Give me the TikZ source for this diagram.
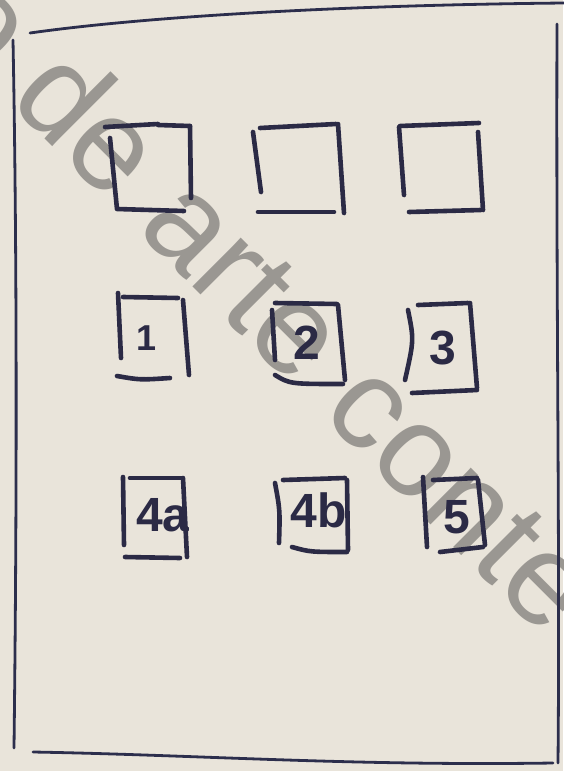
\documentclass[tikz,border=0pt]{standalone}
\usepackage{fontspec}
\newfontfamily\wmfamily{Liberation Sans}
\definecolor{paper}{HTML}{E9E4DA}
\definecolor{ink}{HTML}{2B2A45}
\definecolor{frameink}{HTML}{2C2E4C}
\definecolor{wmgray}{HTML}{9A9792}
\tikzset{
  frameline/.style={draw=frameink, line width=2.8pt, line cap=round, line join=round},
  boxline/.style={draw=ink, line width=4.6pt, line cap=round, line join=round},
  digit/.style={text=ink, inner sep=0pt, font=\wmfamily\bfseries\fontsize{48}{48}\selectfont},
  watermark/.style={text=wmgray, inner sep=0pt, rotate=-45, anchor=base west,
    font=\wmfamily\fontsize{130}{130}\selectfont}
}
\begin{document}
\begin{tikzpicture}[x=1pt,y=-1pt]
\useasboundingbox (0,0) rectangle (563,771);
\fill[paper] (0,0) rectangle (563,771);

% watermark
\node[watermark] (wm) at (-69,25) {o de arte conte};

% outer frame
\draw[frameline] (30,33) .. controls (150,16) and (350,5) .. (565,3);
\draw[frameline] (13,40) .. controls (17,250) and (17,500) .. (14,748);
\draw[frameline] (557,24) .. controls (556,300) and (560,550) .. (558,763);
\draw[frameline] (33,752) .. controls (200,755) and (350,766) .. (553,763);

% row 1
\draw[boxline] (105,127) -- (158,124) (158,125) -- (190,126);
\draw[boxline] (190,126) -- (191,198);
\draw[boxline] (110,138) -- (117,209) -- (184,211);

\draw[boxline] (260,128) -- (336,124);
\draw[boxline] (338,124) -- (344,213);
\draw[boxline] (253,132) -- (261,192);
\draw[boxline] (258,212) -- (334,212);

\draw[boxline] (400,126) -- (479,123);
\draw[boxline] (399,127) -- (404,195);
\draw[boxline] (478,132) -- (483,210);
\draw[boxline] (409,212) -- (481,210);

% row 2
\draw[boxline] (118,293) -- (121,358);
\draw[boxline] (123,297) -- (178,298);
\draw[boxline] (183,300) -- (189,375);
\draw[boxline] (117,376) .. controls (140,380) .. (170,378);
\node[digit, font=\wmfamily\bfseries\fontsize{36}{36}\selectfont] (d1) at (147,338) {1};

\draw[boxline] (275,303) -- (337,304);
\draw[boxline] (338,305) -- (345,380);
\draw[boxline] (272,310) -- (275,360);
\draw[boxline] (275,375) .. controls (290,384) .. (343,384);
\node[digit] (d2) at (307,343) {2};

\draw[boxline] (408,310) .. controls (414,340) .. (405,380);
\draw[boxline] (418,305) -- (468,303);
\draw[boxline] (470,303) -- (477,388);
\draw[boxline] (412,393) -- (477,390);
\node[digit] (d3) at (443,348) {3};

% row 3
\draw[boxline] (123,477) -- (124,545);
\draw[boxline] (130,478) -- (182,478);
\draw[boxline] (183,478) -- (187,557);
\draw[boxline] (125,557) -- (180,558);
\node[digit] (d4a) at (163,515) {4a};

\draw[boxline] (275,483) .. controls (280,510) .. (279,543);
\draw[boxline] (283,480) -- (345,478);
\draw[boxline] (347,480) -- (348,550);
\draw[boxline] (292,547) .. controls (310,552) .. (347,552);
\node[digit] (d4b) at (319,510) {4b};

\draw[boxline] (423,477) -- (427,547);
\draw[boxline] (433,480) -- (477,478);
\draw[boxline] (478,480) -- (485,545);
\draw[boxline] (440,552) -- (483,547);
\node[digit] (d5) at (457,517) {5};
\end{tikzpicture}
\end{document}
